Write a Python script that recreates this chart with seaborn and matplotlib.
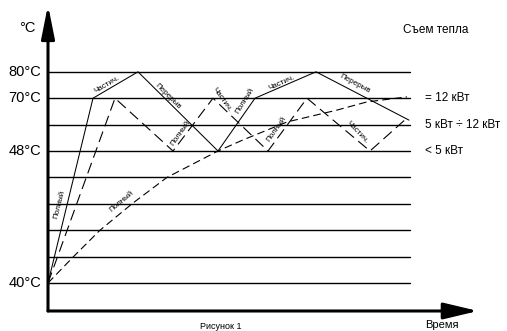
import matplotlib
matplotlib.use("Agg")
import matplotlib.pyplot as plt
import seaborn as sns
import pandas as pd

# ---- data (time in arbitrary units, temperature as level index of horizontal lines) ----
level_lines = [0, 1, 2, 3, 4, 5, 6, 7, 8]
level_labels = {0: "40°C", 5: "48°C", 7: "70°C", 8: "80°C"}
grid_end_t = 36.2

solid_t = [0, 4.5, 9.0, 17.0, 20.7, 26.8, 36.1]
solid_lv = [0, 7, 8, 5, 7, 8, 6.17]

dash_t = [0, 6.7, 12.5, 16.5, 22.0, 25.9, 32.2, 35.9]
dash_lv = [0, 7, 5, 7, 5, 7, 5, 6.25]

curve_t = [0, 2.5, 5.2, 8.5, 11.9, 17.0, 19.5, 23.9, 28.9, 31.9, 35.9]
curve_lv = [0, 0.98, 2.0, 3.03, 4.0, 5.0, 5.42, 6.1, 6.55, 6.86, 7.05]

power_labels = ["= 12 кВт", "5 кВт ÷ 12 кВт", "< 5 кВт"]
power_levels = [7, 6, 5]

seg_labels = ["Полный", "Частич.", "Перерыв", "Полный", "Частич.", "Полный",
              "Частич.", "Перерыв", "Полный", "Частич.", "Полный"]

sns.set_theme(style="white")
plt.rcParams["font.family"] = ["Liberation Sans", "DejaVu Sans"]
plt.rcParams["lines.scale_dashes"] = False

fig = plt.figure(figsize=(5.07, 3.31), dpi=100)
ax = fig.add_axes([0, 0, 1, 1])
ax.set_xlim(-4.8, 45.9)
ax.set_ylim(-1.818, 10.72)
ax.axis("off")

# horizontal level lines
for lv in level_lines:
    sns.lineplot(x=[0, grid_end_t], y=[lv, lv], ax=ax, color="black", linewidth=1.0)

df_s = pd.DataFrame({"t": solid_t, "lv": solid_lv})
df_d = pd.DataFrame({"t": dash_t, "lv": dash_lv})
df_c = pd.DataFrame({"t": curve_t, "lv": curve_lv})

sns.lineplot(data=df_s, x="t", y="lv", ax=ax, sort=False, estimator=None,
             color="black", linewidth=0.75)
sns.lineplot(data=df_d, x="t", y="lv", ax=ax, sort=False, estimator=None,
             color="black", linewidth=0.8, linestyle=(0, (8.0, 4.0)))
sns.lineplot(data=df_c, x="t", y="lv", ax=ax, sort=False, estimator=None,
             color="black", linewidth=0.8, linestyle=(0, (5.5, 3.0)))

# axes arrows
ax.annotate("", xy=(43.0, -1.06), xytext=(0, -1.06),
            arrowprops=dict(arrowstyle="-|>,head_length=2.1,head_width=0.5",
                            lw=2.2, color="black", mutation_scale=10,
                            shrinkA=0, shrinkB=0))
ax.annotate("", xy=(0, 10.53), xytext=(0, -1.06),
            arrowprops=dict(arrowstyle="-|>,head_length=2.0,head_width=0.4",
                            lw=2.2, color="black", mutation_scale=10,
                            shrinkA=0, shrinkB=0))

# level labels
for lv, lab in level_labels.items():
    ax.text(-0.7, lv, lab, ha="right", va="center", fontsize=10.5, color="black")
ax.text(-2.1, 9.66, "°C", ha="center", va="center", fontsize=10.5, color="black")

# segment labels
seg_pos = [(1.1, 2.99, 76), (5.9, 7.5, 30), (12.0, 7.08, -45), (13.2, 5.68, 55),
           (17.4, 6.93, -55), (19.7, 6.89, 58), (23.4, 7.58, 24), (30.7, 7.54, -28),
           (22.8, 5.83, 55), (30.9, 5.72, -47), (7.4, 3.07, 40)]
for lab, (t, lv, rot) in zip(seg_labels, seg_pos):
    ax.text(t, lv, lab, ha="center", va="center", rotation=rot,
            rotation_mode="anchor", fontsize=5.8, color="black")

# right side
ax.text(35.5, 9.58, "Съем тепла", ha="left", va="center", fontsize=8.5, color="black")
for lab, lv in zip(power_labels, power_levels):
    ax.text(37.7, lv, lab, ha="left", va="center", fontsize=8.5, color="black")

ax.text(39.4, -1.59, "Время", ha="center", va="center", fontsize=8, color="black")
ax.text(15.2, -1.80, "Рисунок 1", ha="left", va="bottom", fontsize=6.5, color="black")

fig.savefig("out.png", dpi=100)
